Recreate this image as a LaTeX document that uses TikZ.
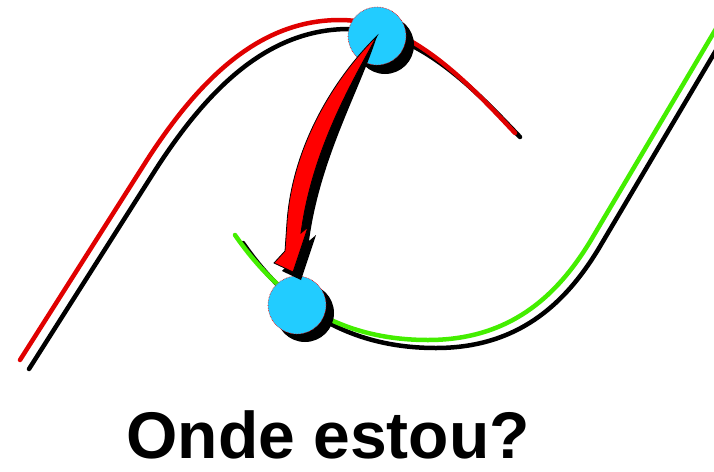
\documentclass[tikz,border=0pt]{standalone}
\usepackage{fontspec}
\setmainfont{Liberation Sans}
\definecolor{redc}{HTML}{E00000}
\definecolor{greenc}{HTML}{44EE00}
\definecolor{cyanc}{HTML}{22CCFF}
\begin{document}
\begin{tikzpicture}[x=1pt,y=-1pt,
  curve/.style={line width=4.5pt,line cap=round},
  shadowcurve/.style={curve,black},
  ball/.style={circle,minimum size=58pt,inner sep=0pt,fill=cyanc,draw=red,densely dotted,line width=0.6pt},
  ballshadow/.style={circle,minimum size=58pt,inner sep=0pt,fill=black},
  titletext/.style={font=\fontsize{66}{66}\selectfont\bfseries,inner sep=0pt,anchor=base}]
\useasboundingbox (0,0) rectangle (714,471);
% curve shadows
\draw[shadowcurve,shift={(9,9)}] (20,360) -- (147,160) .. controls (200,78) and (260,20) .. (340,20) .. controls (410,20) and (470,85) .. (511,128);
\draw[shadowcurve,shift={(8,8)}] (235,235) .. controls (280,300) and (340,340) .. (428,340) .. controls (515,340) and (562,290) .. (594,235) -- (720,22);
% coloured curves
\draw[curve,redc] (20,360) -- (147,160) .. controls (200,78) and (260,20) .. (340,20) .. controls (410,20) and (470,85) .. (515,133);
\draw[curve,greenc] (235,235) .. controls (280,300) and (340,340) .. (428,340) .. controls (515,340) and (562,290) .. (594,235) -- (720,22);
% circles
\node[ballshadow] (s1) at (385,45) {};
\node[ballshadow] (s2) at (305,313) {};
\node[ball] (c1) at (377,36) {};
\node[ball] (c2) at (297,305) {};
% arrow shadow
\fill[black,shift={(8,8)}] (c1.center) .. controls (340,72) and (293,140) .. (287,222) -- (285,251) -- (274,263) -- (293,272) -- (308,227) -- (301,233) .. controls (312,150) and (352,82) .. (c1.center) -- cycle;
% arrow
\filldraw[fill=red,draw=black,line width=0.8pt,line join=miter] (c1.center) .. controls (340,72) and (293,140) .. (287,222) -- (285,251) -- (274,263) -- (293,272) -- (308,227) -- (301,233) .. controls (312,150) and (352,82) .. (c1.center) -- cycle;
% title
\node[titletext] (title) at (328,458) {Onde estou?};
\end{tikzpicture}
\end{document}
